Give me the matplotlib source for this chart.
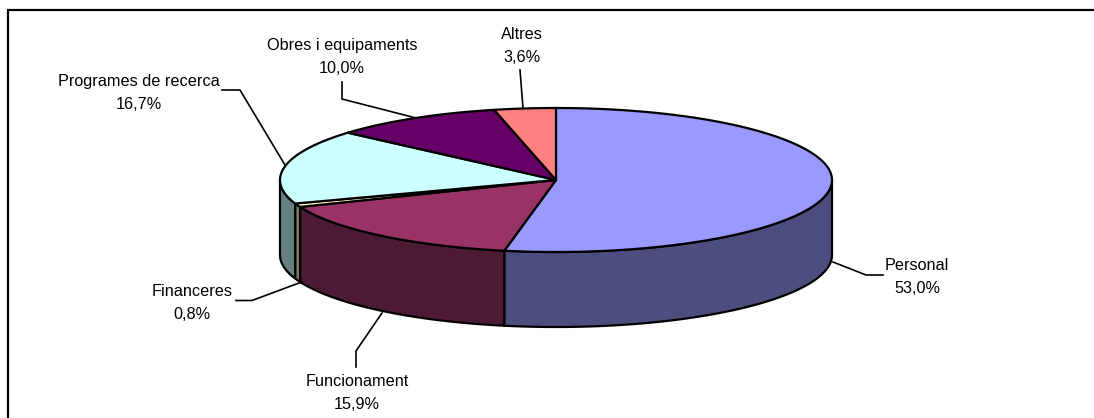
import numpy as np
from matplotlib import pyplot as plt

plt.rcParams['font.family'] = ['Liberation Sans', 'DejaVu Sans']

categories = ['Personal', 'Funcionament', 'Financeres', 'Programes de recerca', 'Obres i equipaments', 'Altres']
values = [53.0, 15.9, 0.8, 16.7, 10.0, 3.6]
value_labels = ['53,0%', '15,9%', '0,8%', '16,7%', '10,0%', '3,6%']
top_colors = ['#9999FF', '#993366', '#FFFFCC', '#CCFFFF', '#660066', '#FF8080']
side_colors = ['#4D4D80', '#4D1A33', '#808066', '#668080', '#330033', '#804040']

# geometria del pastis en pixels
cx, cy = 556, 180
rx, ry = 276, 72
depth = 75

# centre de l'etiqueta i guia per cada sector
label_pos = [(917, 277), (357, 393), (192, 303), (139, 93), (342, 57), (522, 46)]
leaders = [
    [(833, 262), (866, 275), (883, 275)],
    [(382, 313), (356, 351), (356, 367)],
    [(299, 283), (252, 300.5), (236, 300.5)],
    [(285, 165), (240, 90), (222, 90)],
    [(416, 118), (342, 99), (342, 82)],
    [(523, 108), (520, 70)],
]


def arc(a0, a1, dy=0):
    # angles en graus, sentit horari des de dalt
    t = np.radians(np.linspace(a0, a1, max(int(abs(a1 - a0) * 2), 2)))
    return cx + rx * np.sin(t), cy - ry * np.cos(t) + dy


fig = plt.figure(figsize=(10.94, 4.18), dpi=100)
ax = fig.add_axes([0, 0, 1, 1])
ax.set_xlim(0, 1094)
ax.set_ylim(418, 0)
ax.axis('off')

# marc: nomes esquerra i dalt
ax.plot([8, 8, 1094], [418, 10, 10], color='black', lw=1.6, solid_joinstyle='miter')

edges = np.cumsum([0] + values) / sum(values) * 360

# cares laterals (nomes la meitat de davant)
for i in range(len(values)):
    a0 = max(edges[i], 90)
    a1 = min(edges[i + 1], 270)
    if a1 <= a0:
        continue
    x, y = arc(a0, a1)
    xb, yb = arc(a1, a0, depth)
    ax.fill(np.r_[x, xb], np.r_[y, yb], facecolor=side_colors[i], edgecolor='black', lw=1.6, zorder=2)

# cara superior
for i in range(len(values)):
    x, y = arc(edges[i], edges[i + 1])
    ax.fill(np.r_[cx, x], np.r_[cy, y], facecolor=top_colors[i], edgecolor='black', lw=1.6, zorder=3)

for i in range(len(values)):
    xs, ys = zip(*leaders[i])
    ax.plot(xs, ys, color='black', lw=1.2, zorder=4)
    ax.text(label_pos[i][0], label_pos[i][1], categories[i] + '\n' + value_labels[i],
            ha='center', va='center', fontsize=11.7, linespacing=1.65, color='black')

plt.savefig('out.png', dpi=100)
